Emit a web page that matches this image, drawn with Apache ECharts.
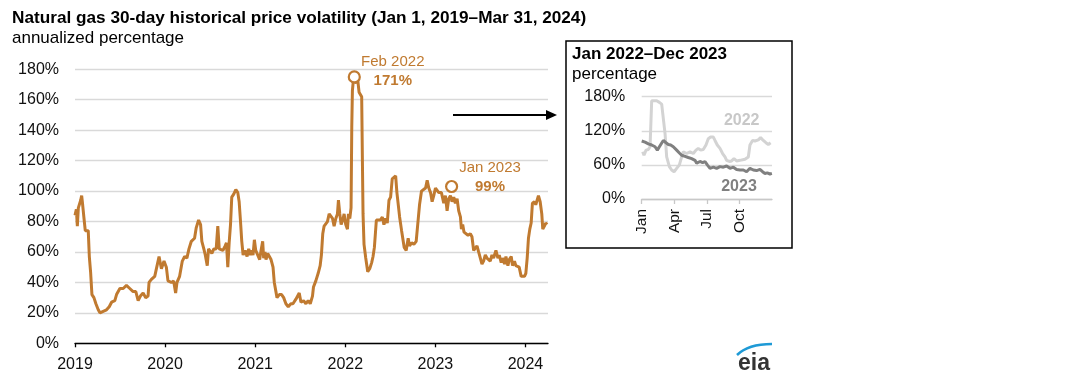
<!DOCTYPE html>
<html><head><meta charset="utf-8">
<script src="https://cdn.jsdelivr.net/npm/echarts@6/dist/echarts.min.js"></script>
<style>html,body{margin:0;padding:0;background:#fff}#c{width:1080px;height:386px}</style>
</head><body><div id="c"></div>
<script>
// Main series: decimal year, annualized volatility (%)
const volDates = [2019.000,2019.015,2019.026,2019.037,2019.063,2019.074,2019.085,2019.100,2019.114,2019.147,2019.159,2019.173,2019.188,2019.210,2019.232,2019.258,2019.277,2019.313,2019.350,2019.380,2019.406,2019.442,2019.461,2019.498,2019.535,2019.571,2019.608,2019.645,2019.675,2019.701,2019.726,2019.756,2019.785,2019.811,2019.822,2019.848,2019.885,2019.911,2019.933,2019.959,2019.988,
2020.014,2020.032,2020.069,2020.095,2020.117,2020.132,2020.161,2020.191,2020.217,2020.242,2020.265,2020.291,2020.327,2020.346,2020.372,2020.394,2020.408,2020.430,2020.446,2020.468,2020.482,2020.504,2020.519,2020.541,2020.567,2020.585,2020.601,2020.623,2020.641,2020.667,2020.681,2020.696,2020.711,2020.726,2020.740,2020.762,2020.785,2020.807,2020.822,2020.836,2020.851,2020.866,2020.888,2020.910,2020.928,2020.947,2020.961,2020.976,2020.991,
2021.006,2021.028,2021.050,2021.065,2021.083,2021.094,2021.109,2021.120,2021.139,2021.157,2021.176,2021.198,2021.212,2021.231,2021.242,2021.268,2021.293,2021.316,2021.341,2021.367,2021.396,2021.419,2021.452,2021.470,2021.489,2021.508,2021.537,2021.563,2021.588,2021.611,2021.636,2021.647,2021.673,2021.699,2021.721,2021.735,2021.750,2021.765,2021.784,2021.802,2021.821,2021.839,2021.858,2021.876,2021.895,2021.913,2021.924,2021.939,2021.954,2021.976,2021.987,
2022.005,2022.024,2022.035,2022.050,2022.064,2022.072,2022.079,2022.090,2022.108,2022.123,2022.138,2022.153,2022.171,2022.182,2022.190,2022.197,2022.208,2022.227,2022.249,2022.271,2022.293,2022.308,2022.323,2022.345,2022.367,2022.389,2022.411,2022.429,2022.448,2022.466,2022.485,2022.503,2022.521,2022.540,2022.559,2022.573,2022.588,2022.603,2022.625,2022.639,2022.654,2022.676,2022.698,2022.713,2022.736,2022.761,2022.787,2022.809,2022.824,2022.846,2022.868,2022.891,2022.909,2022.927,2022.946,2022.964,2022.982,
2023.001,2023.019,2023.038,2023.067,2023.093,2023.111,2023.130,2023.148,2023.167,2023.185,2023.204,2023.222,2023.241,2023.259,2023.278,2023.289,2023.303,2023.318,2023.340,2023.362,2023.388,2023.406,2023.425,2023.443,2023.462,2023.480,2023.499,2023.517,2023.535,2023.554,2023.573,2023.591,2023.609,2023.628,2023.646,2023.672,2023.694,2023.709,2023.731,2023.746,2023.768,2023.783,2023.805,2023.820,2023.842,2023.856,2023.878,2023.893,2023.915,2023.930,2023.952,2023.967,2023.989,
2024.004,2024.019,2024.033,2024.048,2024.063,2024.077,2024.100,2024.114,2024.129,2024.144,2024.163,2024.181,2024.192,2024.210,2024.225,2024.240];
const volValues = [84,88,77,89,94,97,91,82,74,74,57,47,32,30,26,22,20,21,22,24,27,28,32,36,36,38,36,34,34,28,31,33,30,31,40,42,44,51,57,49,54,
50,41,40,41,33,40,44,54,57,56,62,67,69,76,81,78,67,62,58,51,62,63,59,62,62,77,62,63,61,64,66,50,66,78,96,98,101,99,93,81,67,58,61,57,62,58,61,58,68,
61,62,55,61,67,56,60,55,59,58,55,50,40,39,30,32,32,30,26,24,26,26,29,28,33,27,28,26,28,26,31,37,41,46,51,58,72,77,78,80,85,86,82,77,82,85,94,85,78,82,85,
78,75,85,82,89,142,166,173,174,171,173,165,164,162,120,85,65,56,47,49,53,57,63,81,82,81,83,78,82,79,94,96,108,108,110,99,98,83,74,73,63,61,69,64,66,65,67,67,91,100,101,102,107,102,99,93,97,
102,101,99,99,92,97,87,95,97,93,96,92,95,87,83,75,78,73,74,71,72,70,61,62,64,60,59,52,54,58,56,57,54,58,56,61,56,58,53,56,52,57,51,55,57,51,54,51,52,50,44,43,44,
46,56,69,75,79,92,93,91,92,97,93,85,75,77,79,78];

// Annotated points
const annoDates = [2022.10, 2023.18];
const annoValues = [175, 103];
const annoMonths = ['Feb 2022', 'Jan 2023'];
const annoLabels = ['171%', '99%'];

// Axis ticks
const yearTicks = [2019, 2020, 2021, 2022, 2023, 2024];
const insetMonthTicks = [0, 3, 6, 9];
const insetMonthLabels = ['Jan', 'Apr', 'Jul', 'Oct'];

// Inset: month of year (0..12), percentage
const inset2022Months = [0.09,0.21,0.40,0.61,0.77,0.92,1.07,1.38,1.63,1.84,1.99,2.15,2.30,2.55,2.76,2.98,3.22,3.47,3.68,3.83,4.14,4.45,4.75,5.00,5.21,5.43,5.67,5.92,6.13,6.35,6.60,6.75,6.96,7.21,7.45,7.67,7.82,8.07,8.28,8.50,8.74,9.05,9.51,9.82,9.97,10.21,10.43,10.74,10.95,11.20,11.44,11.66,11.87];
const inset2022Values = [83,77,86,87,92,173,176,173,170,167,164,115,74,57,51,48,54,60,74,83,80,83,80,86,89,86,87,95,106,109,109,103,95,89,80,74,68,66,67,71,67,68,70,74,95,103,102,104,108,103,99,96,99];
const inset2023Months = [0,0.31,0.61,0.92,1.23,1.44,1.63,1.75,1.99,2.24,2.45,2.67,2.91,3.07,3.22,3.47,3.68,3.99,4.29,4.60,4.91,5.06,5.37,5.61,5.83,6.04,6.29,6.60,6.90,7.21,7.52,7.82,8.13,8.44,8.74,9.05,9.36,9.66,9.97,10.28,10.58,10.89,11.13,11.35,11.56,11.81,11.99];
const inset2023Values = [102,100,97,95,92,86,92,89,103,99,96,95,92,94,86,81,77,75,73,71,68,63,66,64,66,60,54,56,54,57,56,58,54,56,52,51,51,48,54,51,50,52,48,45,46,44,45];

const ORANGE = '#c07a30';
const FONT = '"Liberation Sans", Arial, sans-serif';
const zip = (a, b) => a.map((x, i) => [x, b[i]]);

const chart = echarts.init(document.getElementById('c'), null, {renderer: 'canvas'});
chart.setOption({
  animation: false,
  backgroundColor: '#fff',
  textStyle: {fontFamily: FONT},
  grid: [
    {left: 75, right: 532, top: 69.3, bottom: 42.7},
    {left: 641.7, right: 308, top: 96.7, bottom: 187}
  ],
  xAxis: [
    {type: 'value', gridIndex: 0, min: 2019, max: 2024.25, interval: 1,
      axisLine: {lineStyle: {color: '#000', width: 1.3}},
      axisTick: {show: true, length: 4, lineStyle: {color: '#000', width: 1.3}, customValues: yearTicks},
      axisLabel: {color: '#111', fontSize: 16, fontFamily: FONT, margin: 13, customValues: yearTicks, formatter: v => String(v)},
      splitLine: {show: false}},
    {type: 'value', gridIndex: 1, min: 0, max: 12, interval: 3,
      axisLine: {lineStyle: {color: '#c8c8c8', width: 1.3}},
      axisTick: {show: true, length: 5, lineStyle: {color: '#c8c8c8', width: 1.3}, customValues: insetMonthTicks},
      axisLabel: {color: '#111', fontSize: 15.5, fontFamily: FONT, rotate: 90, margin: 10, customValues: insetMonthTicks,
        formatter: v => insetMonthLabels[insetMonthTicks.indexOf(v)] || ''},
      splitLine: {show: false}}
  ],
  yAxis: [
    {type: 'value', gridIndex: 0, min: 0, max: 180, interval: 20,
      axisLine: {show: false}, axisTick: {show: false},
      axisLabel: {color: '#111', fontSize: 16, fontFamily: FONT, margin: 16, formatter: '{value}%'},
      splitLine: {lineStyle: {color: '#d9d9d9', width: 1.4}}},
    {type: 'value', gridIndex: 1, min: 0, max: 180, interval: 60,
      axisLine: {show: false}, axisTick: {show: false},
      axisLabel: {color: '#111', fontSize: 16, fontFamily: FONT, margin: 16.5, formatter: '{value}%'},
      splitLine: {lineStyle: {color: '#d9d9d9', width: 1.4}}}
  ],
  series: [
    {type: 'line', xAxisIndex: 0, yAxisIndex: 0, data: zip(volDates, volValues),
      showSymbol: false, lineStyle: {color: ORANGE, width: 3}, z: 3},
    {type: 'scatter', xAxisIndex: 0, yAxisIndex: 0,
      data: annoDates.map((d, i) => ({value: [d, annoValues[i]],
        label: {offset: i === 0 ? [38.5, -5.5] : [38.4, -8.7]}})),
      symbol: 'circle', symbolSize: 11,
      itemStyle: {color: '#fff', borderColor: ORANGE, borderWidth: 2.2, opacity: 1},
      label: {show: true, position: 'inside', align: 'center', verticalAlign: 'middle',
        formatter: p => '{a|' + annoMonths[p.dataIndex] + '}\n{b|' + annoLabels[p.dataIndex] + '}',
        rich: {
          a: {color: ORANGE, fontSize: 15, fontFamily: FONT, lineHeight: 19, align: 'center'},
          b: {color: ORANGE, fontSize: 15, fontWeight: 'bold', fontFamily: FONT, lineHeight: 19, align: 'center'}
        }},
      z: 5},
    {type: 'line', xAxisIndex: 1, yAxisIndex: 1, data: zip(inset2022Months, inset2022Values),
      showSymbol: false, lineStyle: {color: '#d3d3d3', width: 3}, z: 3},
    {type: 'line', xAxisIndex: 1, yAxisIndex: 1, data: zip(inset2023Months, inset2023Values),
      showSymbol: false, lineStyle: {color: '#808080', width: 3}, z: 4}
  ],
  graphic: [
    {type: 'text', left: 12, top: 10, style: {text: 'Natural gas 30-day historical price volatility (Jan 1, 2019\u2013Mar 31, 2024)', font: 'bold 17.2px ' + FONT, fill: '#000'}},
    {type: 'text', left: 12, top: 30, style: {text: 'annualized percentage', font: '17px ' + FONT, fill: '#000'}},
    {type: 'rect', shape: {x: 566, y: 41, width: 226, height: 207}, style: {fill: 'none', stroke: '#000', lineWidth: 1.5}},
    {type: 'text', left: 572, top: 46, style: {text: 'Jan 2022\u2013Dec 2023', font: 'bold 17px ' + FONT, fill: '#000'}},
    {type: 'text', left: 572, top: 66, style: {text: 'percentage', font: '17px ' + FONT, fill: '#000'}},
    {type: 'text', x: 741.7, y: 121, style: {text: '2022', font: 'bold 16px ' + FONT, fill: '#c8c8c8', align: 'center', verticalAlign: 'middle'}},
    {type: 'text', x: 739, y: 187, style: {text: '2023', font: 'bold 16px ' + FONT, fill: '#808080', align: 'center', verticalAlign: 'middle'}},
    {type: 'line', shape: {x1: 453, y1: 115, x2: 548, y2: 115}, style: {stroke: '#000', lineWidth: 2}},
    {type: 'polygon', shape: {points: [[546, 110], [557, 115], [546, 120]]}, style: {fill: '#000'}},
    {type: 'bezierCurve', shape: {x1: 737, y1: 355, cpx1: 748, cpy1: 344, x2: 772, y2: 344}, style: {stroke: '#1e9ad6', lineWidth: 2.5, fill: 'none'}},
    {type: 'text', x: 754, y: 364, style: {text: 'eia', font: 'bold 23px ' + FONT, fill: '#333', align: 'center', verticalAlign: 'middle'}}
  ]
});
</script>
</body></html>
